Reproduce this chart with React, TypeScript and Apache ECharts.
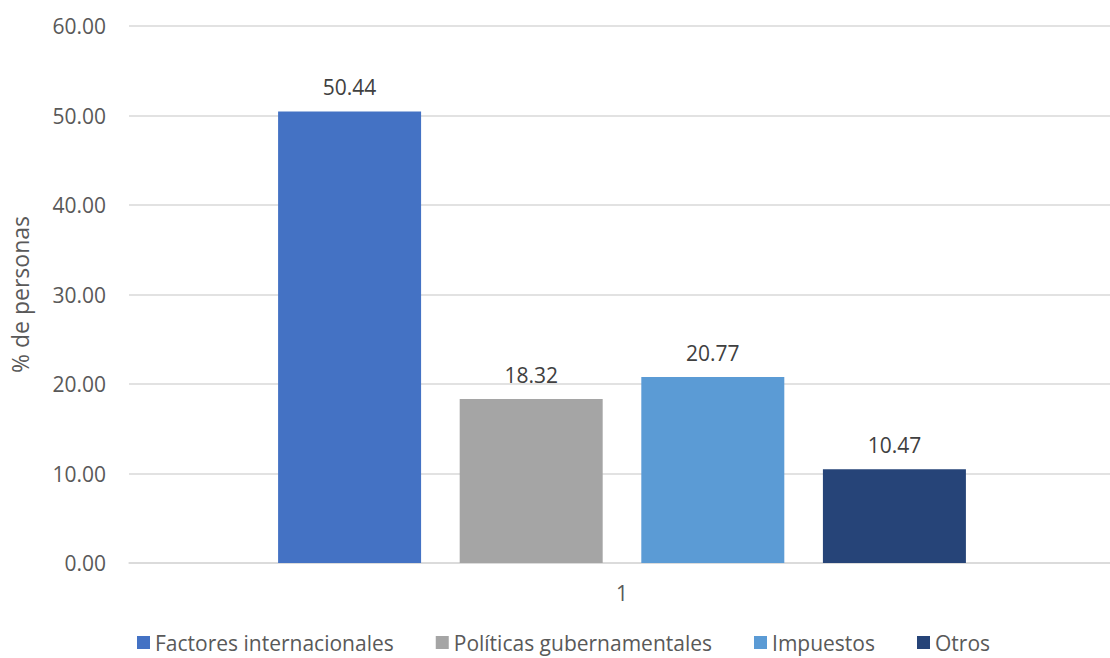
import React, { useEffect, useRef } from "react";
import * as echarts from "echarts";

const categories = ["1"];
const seriesNames = ["Factores internacionales", "Políticas gubernamentales", "Impuestos", "Otros"];
const seriesValues = [[50.44], [18.32], [20.77], [10.47]];
const seriesColors = ["#4472C4", "#A5A5A5", "#5B9BD5", "#264478"];
const yTicks = { min: 0, max: 60, interval: 10 };

const FONT = "'Open Sans', 'Noto Sans', sans-serif";

export default function App() {
  const ref = useRef<HTMLDivElement>(null);
  useEffect(() => {
    document.body.style.margin = "0";
    const chart = echarts.init(ref.current!, null, { renderer: "svg" });
    chart.setOption({
      animation: false,
      textStyle: { fontFamily: FONT },
      grid: { left: 122, right: 15, top: 26, bottom: 95, containLabel: false },
      legend: {
        bottom: 0,
        left: 132,
        itemWidth: 13,
        itemHeight: 13,
        itemGap: 42,
        icon: "rect",
        textStyle: { fontSize: 21, color: "#595959", fontFamily: FONT },
        data: seriesNames,
      },
      xAxis: {
        type: "category",
        data: categories,
        axisLine: { lineStyle: { color: "#D9D9D9", width: 1.5 } },
        axisTick: { show: false },
        axisLabel: { fontSize: 21, color: "#595959", margin: 19, fontFamily: FONT },
      },
      yAxis: {
        type: "value",
        min: yTicks.min,
        max: yTicks.max,
        interval: yTicks.interval,
        name: "% de personas",
        nameLocation: "middle",
        nameGap: 98,
        nameRotate: 90,
        nameTextStyle: { fontSize: 23, color: "#595959", fontFamily: FONT },
        axisLine: { show: false },
        axisTick: { show: false },
        splitLine: { lineStyle: { color: "#D9D9D9", width: 1.5 } },
        axisLabel: {
          fontSize: 21,
          color: "#595959",
          margin: 23,
          fontFamily: FONT,
          formatter: (v: number) => v.toFixed(2),
        },
      },
      series: seriesNames.map((name, i) => ({
        name,
        type: "bar",
        data: seriesValues[i],
        barWidth: 143,
        barGap: "27%",
        itemStyle: { color: seriesColors[i] },
        label: {
          show: true,
          position: "top",
          distance: 14,
          fontSize: 21,
          color: "#404040",
          fontFamily: FONT,
          formatter: (p: any) => Number(p.value).toFixed(2),
        },
      })),
    });
    return () => chart.dispose();
  }, []);
  return (
    <div style={{ width: 1110, height: 658, overflow: "hidden" }}>
      <div ref={ref} style={{ width: 1130, height: 658 }} />
    </div>
  );
}
